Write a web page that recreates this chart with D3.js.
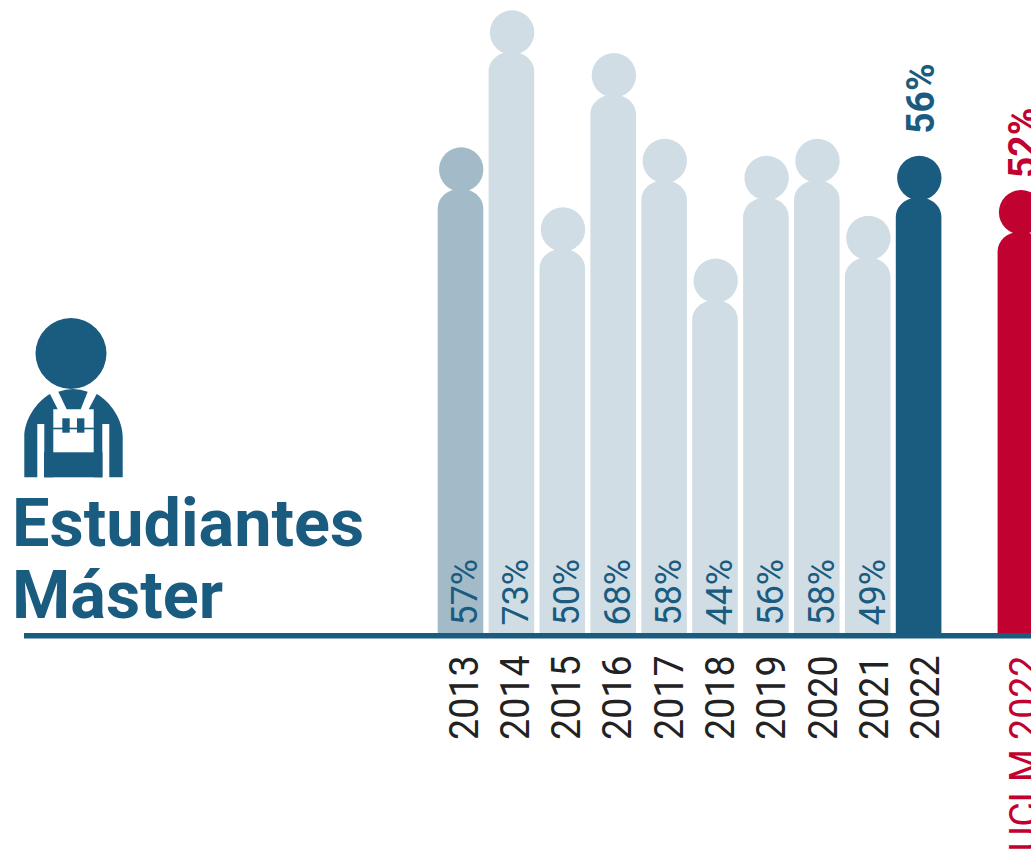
<!DOCTYPE html>
<html>
<head>
<meta charset="utf-8">
<script src="https://cdn.jsdelivr.net/npm/d3@7"></script>
<style>
  html, body { margin: 0; padding: 0; background: #fff; overflow: hidden; }
  svg { display: block; }
  text { font-family: Roboto, sans-serif; }
</style>
</head>
<body>
<div id="area1"></div>
<script>
// chart data
var categories = ["2013", "2014", "2015", "2016", "2017", "2018", "2019", "2020", "2021", "2022", "", "UCLM 2022"];
var values = [57, 73, 50, 68, 58, 44, 56, 58, 49, 56, null, 52];
var titleLines = ["Estudiantes", "Máster"];

var blue = "#1a5b80", red = "#c10230", ink = "#222222";

var dim = { "width": 1031, "height": 858 };
var baseY = 633;

var svg = d3.select("#area1")
  .append("svg")
  .attr("width", dim.width)
  .attr("height", dim.height);

var x = d3.scalePoint().domain(categories).range([460.5, 1020.4]);
// value maps to the top of the head
var y = d3.scaleLinear().domain([0, 73]).range([635.3, 10.3]);
// the year labels are spaced a bit wider than the bars
var labelX = d3.scaleLinear().domain([0, 9, 11]).range([477.5, 939.3, 1037.5]);

var rows = categories
  .map(function(c, i) { return { cat: c, val: values[i], i: i }; })
  .filter(function(d) { return d.val !== null; });

function fillOf(d) {
  if (d.cat === "UCLM 2022") return red;
  if (d.cat === "2022") return blue;
  if (d.cat === "2013") return "#a3bbc9";
  return "#d1dde5";
}

var halfW = 22.8, headR = 22.2;

function bodyPath(d) {
  var cx = x(d.cat), top = y(d.val) + 41.5;
  var p = d3.path();
  p.moveTo(cx - halfW, baseY);
  p.lineTo(cx - halfW, top + 20);
  p.bezierCurveTo(cx - halfW, top + 8, cx - 12, top, cx, top);
  p.bezierCurveTo(cx + 12, top, cx + halfW, top + 8, cx + halfW, top + 20);
  p.lineTo(cx + halfW, baseY);
  p.closePath();
  return p.toString();
}

var people = svg.selectAll(".person").data(rows).enter().append("g").attr("class", "person");

people.append("path").attr("d", bodyPath).attr("fill", fillOf);
people.append("circle")
  .attr("cx", function(d) { return x(d.cat) + 0.7; })
  .attr("cy", function(d) { return y(d.val) + headR; })
  .attr("r", headR)
  .attr("fill", fillOf);

// baseline
svg.append("rect")
  .attr("x", 24).attr("y", baseY)
  .attr("width", dim.width - 24).attr("height", 5.5)
  .attr("fill", blue);

function vertical(sel, fx, fy, sx) {
  return sel.attr("transform", function(d) { return "translate(" + fx(d) + "," + fy(d) + ") rotate(-90) scale(" + sx + ",1)"; });
}

// percent inside the bars
vertical(svg.selectAll(".inner").data(rows.filter(function(d) { return d.i < 9; })).enter().append("text").attr("class", "inner"),
    function(d) { return x(d.cat) + 16.8; }, function() { return 625.5; }, 0.97)
  .attr("font-size", 37)
  .attr("fill", blue)
  .text(function(d) { return d.val + "%"; });

// percent above the highlighted bars
vertical(svg.selectAll(".outer").data(rows.filter(function(d) { return d.i >= 9; })).enter().append("text").attr("class", "outer"),
    function(d) { return x(d.cat) + 15.2; }, function(d) { return d.i > 9 ? y(d.val) - 12 : y(d.val) - 22; }, 0.97)
  .attr("font-size", 38.5)
  .attr("font-weight", 700)
  .attr("fill", fillOf)
  .text(function(d) { return d.val + "%"; });

// category labels, anchored at the top so the long one runs off the bottom
vertical(svg.selectAll(".cat").data(rows).enter().append("text").attr("class", "cat"),
    function(d) { return labelX(d.i); }, function() { return 655.5; }, 0.94)
  .attr("font-size", 40)
  .attr("fill", function(d) { return d.i > 9 ? red : ink; })
  .attr("text-anchor", "end")
  .text(function(d) { return d.cat; });

// title
svg.selectAll(".title").data(titleLines).enter().append("text")
  .attr("class", "title")
  .attr("x", 12)
  .attr("y", function(d, i) { return 546 + i * 72; })
  .attr("font-size", 66.6)
  .attr("font-weight", 700)
  .attr("fill", blue)
  .text(function(d) { return d; });

// worker icon
var icon = svg.append("g").attr("class", "icon").attr("fill", blue);
icon.append("circle").attr("cx", 71).attr("cy", 353.5).attr("r", 35.5);
icon.append("path").attr("d", "M58.3 391.7Q73 386.5 87.7 391.7L80.7 409.3H66.7Z");
icon.append("path").attr("d", "M24.3 477.3V437C24.3 420 36 402 50 394L57.7 409.3H53.3V477.3H44.3V424H37.3V477.3Z");
icon.append("path").attr("d", "M122.7 477.3V437C122.7 420 111 402 96.7 394L88.7 409.3H93.7V477.3H102.3V424H109.3V477.3Z");
icon.append("rect").attr("x", 44).attr("y", 452.3).attr("width", 58.5).attr("height", 25);
icon.append("rect").attr("x", 53).attr("y", 427.7).attr("width", 41).attr("height", 1.6);
icon.append("rect").attr("x", 62.3).attr("y", 418.3).attr("width", 7.4).attr("height", 14.4);
icon.append("rect").attr("x", 77).attr("y", 418.3).attr("width", 7.4).attr("height", 14.4);
</script>
</body>
</html>
